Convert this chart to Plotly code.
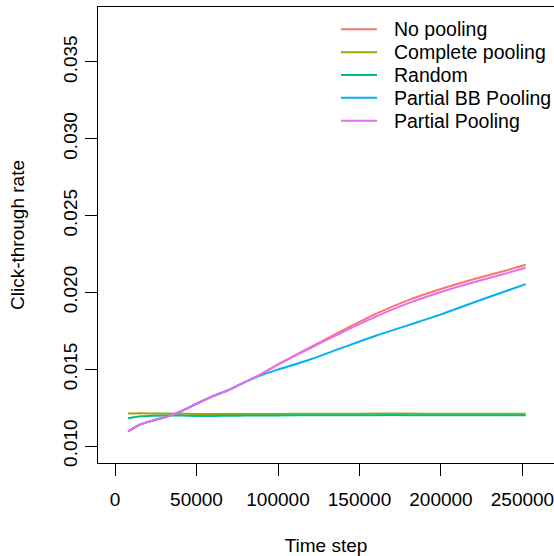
import plotly.graph_objects as go

time_step = [8000, 16000, 24000, 32000, 40000, 50000, 60000, 70000, 80000, 90000,
             100000, 120000, 140000, 160000, 180000, 200000, 220000, 240000, 252000]

no_pooling = [0.01095, 0.01142, 0.01168, 0.01191, 0.01223, 0.01275, 0.01324, 0.01366, 0.01418, 0.01470,
              0.01532, 0.01644, 0.01755, 0.01860, 0.01950, 0.02022, 0.02085, 0.02143, 0.02180]
complete_pooling = [0.01211, 0.01213, 0.01212, 0.01211, 0.01210, 0.01209, 0.01208, 0.01208, 0.01209, 0.01209,
                    0.01209, 0.01210, 0.01210, 0.01211, 0.01211, 0.01210, 0.01210, 0.01210, 0.01210]
random_policy = [0.01181, 0.01193, 0.01197, 0.01199, 0.01198, 0.01196, 0.01196, 0.01197, 0.01198, 0.01199,
                 0.01199, 0.01200, 0.01200, 0.01201, 0.01201, 0.01200, 0.01200, 0.01200, 0.01200]
partial_bb = [0.01095, 0.01142, 0.01168, 0.01191, 0.01223, 0.01275, 0.01324, 0.01366, 0.01418, 0.01462,
              0.01497, 0.01565, 0.01642, 0.01718, 0.01787, 0.01857, 0.01934, 0.02009, 0.02054]
partial_pooling = [0.01095, 0.01142, 0.01168, 0.01191, 0.01223, 0.01275, 0.01324, 0.01366, 0.01418, 0.01470,
                   0.01530, 0.01638, 0.01743, 0.01842, 0.01930, 0.02003, 0.02066, 0.02124, 0.02160]

series_names = ["No pooling", "Complete pooling", "Random", "Partial BB Pooling", "Partial Pooling"]
series_values = [no_pooling, complete_pooling, random_policy, partial_bb, partial_pooling]
series_colors = ["#F8766D", "#A3A500", "#00BF7D", "#00B0F6", "#E76BF3"]

x_ticks = [0, 50000, 100000, 150000, 200000, 250000]
x_tick_labels = ["0", "50000", "100000", "150000", "200000", "250000"]
y_ticks = [0.010, 0.015, 0.020, 0.025, 0.030, 0.035]
y_tick_labels = ["0.010", "0.015", "0.020", "0.025", "0.030", "0.035"]

FONT = "Liberation Sans, Arial, Helvetica, sans-serif"
W, H = 554, 556
ML, MR, MT, MB = 98, 0, 7, 93
PW, PH = W - ML - MR, H - MT - MB


def px_to_paper_x(px):
    return (px - ML) / PW


def px_to_paper_y(py):
    return (H - MB - py) / PH


fig = go.Figure()
for name, vals, col in zip(series_names, series_values, series_colors):
    fig.add_trace(go.Scatter(x=time_step, y=vals, mode="lines", name=name,
                             line=dict(color=col, width=2, shape="spline", smoothing=0.8),
                             showlegend=False, hoverinfo="skip"))

# legend drawn like R's legend(): short line + label per series
legend_top_px = 29.3
legend_step_px = 22.85
for i, (name, col) in enumerate(zip(series_names, series_colors)):
    yc = px_to_paper_y(legend_top_px + i * legend_step_px)
    fig.add_shape(type="line", xref="paper", yref="paper",
                  x0=px_to_paper_x(341), x1=px_to_paper_x(377), y0=yc, y1=yc,
                  line=dict(color=col, width=2))
    fig.add_annotation(xref="paper", yref="paper", x=px_to_paper_x(392), y=yc,
                       xanchor="left", yanchor="middle", text=name, showarrow=False,
                       font=dict(family=FONT, size=19.5, color="black"))

fig.update_layout(
    template="none",
    width=W, height=H,
    margin=dict(l=ML, r=MR, t=MT, b=MB, pad=0),
    plot_bgcolor="white", paper_bgcolor="white",
    font=dict(family=FONT, size=19, color="black"),
    showlegend=False,
)
fig.update_xaxes(
    range=[-10430, 269330], showgrid=False, zeroline=False, automargin=False,
    showline=True, mirror=True, linecolor="black", linewidth=1,
    ticks="outside", ticklen=12, tickcolor="black", tickwidth=1,
    tickvals=x_ticks, ticktext=x_tick_labels, ticklabelstandoff=7,
    ticklabeloverflow="allow",
    title=dict(text="Time step", standoff=33, font=dict(family=FONT, size=19)),
)
fig.update_yaxes(
    range=[0.008894, 0.038578], showgrid=False, zeroline=False, automargin=False,
    showline=True, mirror=False, linecolor="black", linewidth=1,
    ticks="outside", ticklen=12, tickcolor="black", tickwidth=1,
    tickvals=y_ticks, ticktext=y_tick_labels, tickangle=-90, ticklabelstandoff=0,
    ticklabeloverflow="allow",
    title=dict(text="Click-through rate", standoff=30, font=dict(family=FONT, size=19)),
)

fig.write_html("out.html", config={"displayModeBar": False},
               post_script="document.body.style.margin='0';")
